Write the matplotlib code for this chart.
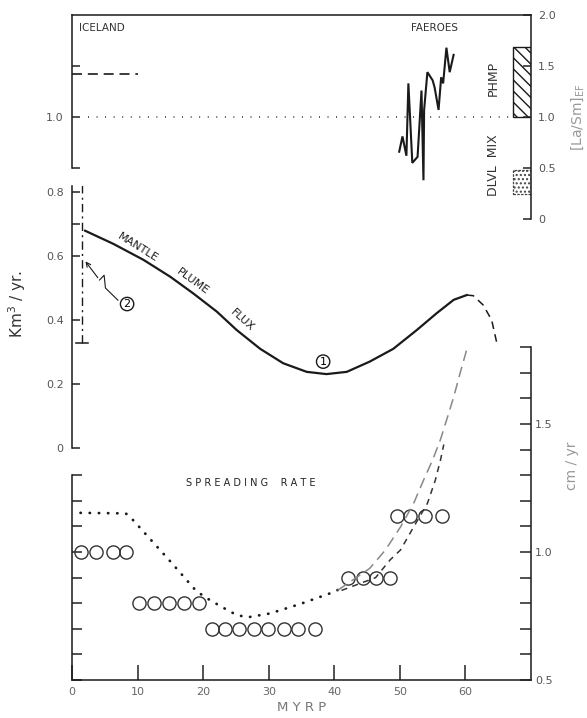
"""Iceland / Faeroes plume flux, [La/Sm]EF and spreading rate vs age (MYRP)."""

import numpy as np
import matplotlib
matplotlib.use("Agg")
import matplotlib.pyplot as plt
from matplotlib.patches import Rectangle

plt.rcParams.update({
    "font.family": ["DejaVu Sans"],
    "font.size": 8,
    "axes.linewidth": 1.1,
    "xtick.direction": "in", "ytick.direction": "in",
    "xtick.color": "#222", "ytick.color": "#222",
    "xtick.labelcolor": "#666", "ytick.labelcolor": "#555",
})

INK = "#1a1a1a"

# ---- top panel: [La/Sm]EF ----
iceland_x = [0, 10]
iceland_y = [1.42, 1.42]
mix_line_x = [2.4, 67.5]
faeroes_x = [49.9, 50.4, 51.0, 51.3, 51.9, 52.7, 53.3, 53.6, 53.7, 54.2,
             55.0, 55.3, 55.9, 56.3, 56.6, 57.1, 57.6, 58.2]
faeroes_y = [0.66, 0.81, 0.62, 1.33, 0.55, 0.61, 1.26, 0.38, 1.07, 1.44,
             1.36, 1.29, 1.07, 1.39, 1.33, 1.68, 1.44, 1.61]
phmp_range = (1.0, 1.69)
dlvl_range = (0.25, 0.48)

# ---- middle panel: mantle plume flux ----
flux_x = [2.0, 6.3, 10.9, 15.0, 18.5, 22.1, 25.1, 28.7, 32.2, 35.8,
          38.8, 41.9, 45.4, 49.0, 52.6, 55.6, 58.2, 60.2]
flux_y = [0.679, 0.638, 0.588, 0.535, 0.483, 0.426, 0.369, 0.310, 0.265, 0.238,
          0.231, 0.238, 0.270, 0.310, 0.369, 0.421, 0.463, 0.478]
flux_ext_x = [60.2, 61.2, 62.7, 64.0, 64.8]
flux_ext_y = [0.478, 0.476, 0.447, 0.400, 0.327]
iceland_bar_x = 1.5
iceland_bar = (0.328, 0.825)
leader_x = [1.8, 4.2, 4.9, 5.1, 7.0]
leader_y = [0.59, 0.525, 0.54, 0.50, 0.462]

# ---- bottom panel: spreading rate (cm/yr) ----
rate_x = [1.3, 3.7, 6.2, 8.3,
          10.2, 12.5, 14.8, 17.1, 19.3,
          21.3, 23.4, 25.5, 27.8, 29.9, 32.3, 34.5, 37.0,
          42.1, 44.4, 46.4, 48.5,
          49.5, 51.6, 53.8, 56.5]
rate_y = [1.0] * 4 + [0.80] * 5 + [0.70] * 8 + [0.90] * 4 + [1.14] * 4
dot_x = [1.3, 8.2, 9.3, 14.8, 18.8, 20.2, 22.8, 25.1, 26.8, 30.2, 34.8, 39.4, 41.1]
dot_y = [1.153, 1.151, 1.125, 0.969, 0.852, 0.825, 0.786, 0.754, 0.745, 0.760,
         0.797, 0.839, 0.858]
dashA_x = [40.5, 45.4, 47.8, 50.1, 52.1, 53.6, 55.0, 56.2, 57.3, 58.2, 59.2, 60.3]
dashA_y = [0.85, 0.936, 1.008, 1.098, 1.19, 1.28, 1.36, 1.44, 1.53, 1.605, 1.70, 1.80]
dashB_x = [41.1, 46.3, 48.5, 50.1, 52.1, 54.2, 55.4, 56.2, 56.7]
dashB_y = [0.85, 0.90, 0.969, 1.008, 1.098, 1.19, 1.28, 1.36, 1.42]

XLIM = (0, 70)
x_ticks = [0, 10, 20, 30, 40, 50, 60]
rate_labels = {0.5: "0.5", 1.0: "1.0", 1.5: "1.5"}

fig = plt.figure(figsize=(5.87, 7.18), dpi=100)
x0, w = 72 / 587, 459 / 587
ax_bot = fig.add_axes([x0, 0.0529, w, 0.4813])
ax_mid = fig.add_axes([x0, 0.376, w, 0.3655])
ax_top = fig.add_axes([x0, 0.695, w, 0.284])
for a in (ax_bot, ax_mid, ax_top):
    a.set_facecolor("none")
    a.set_xlim(*XLIM)
    for s in a.spines.values():
        s.set_color(INK)

# ---------------- top ----------------
ax_top.set_ylim(0, 2.0)
ax_top.spines["bottom"].set_visible(False)
ax_top.spines["left"].set_bounds(0.5, 2.0)
ax_top.spines["right"].set_bounds(0, 2.0)
ax_top.set_xticks([])
ax_top.set_yticks([0.5, 1.0, 1.5])
ax_top.set_yticklabels(["", "1.0", ""])
ax_top.tick_params(axis="y", length=6, width=1.1, labelsize=8, pad=6)
top_r = ax_top.twinx()
top_r.set_ylim(0, 2.0)
top_r.set_facecolor("none")
for s in top_r.spines.values():
    s.set_visible(False)
top_r.set_yticks([0, 0.5, 1.0, 1.5, 2.0])
top_r.set_yticklabels(["0", "0.5", "1.0", "1.5", "2.0"])
top_r.tick_params(axis="y", length=6, width=1.1, labelsize=8, pad=5)
top_r.set_ylabel(r"[La/Sm]$_{\rm EF}$", color="#999", fontsize=10, labelpad=10)

ax_top.plot(iceland_x, iceland_y, color=INK, lw=1.2, dashes=(6, 3.5))
ax_top.plot(mix_line_x, [1.0, 1.0], color=INK, lw=1.1, dashes=(0.6, 5))
ax_top.plot(faeroes_x, faeroes_y, color=INK, lw=1.5, solid_joinstyle="miter")
ax_top.add_patch(Rectangle((67.3, phmp_range[0]), 2.7, phmp_range[1] - phmp_range[0],
                           fill=False, hatch="\\\\\\", ec=INK, lw=1.0))
ax_top.add_patch(Rectangle((67.3, dlvl_range[0]), 2.7, dlvl_range[1] - dlvl_range[0],
                           fill=False, hatch="....", ec="#444", lw=0.9, ls=(0, (2, 1))))
ax_top.text(1.0, 1.87, "ICELAND", fontsize=7.5, color="#333", va="center")
ax_top.text(55.3, 1.87, "FAEROES", fontsize=7.5, color="#333", va="center", ha="center")
ax_top.text(64.3, 1.38, "PHMP", rotation=90, fontsize=9, color="#333", ha="center", va="center")
ax_top.text(64.3, 0.53, "DLVL  MIX", rotation=90, fontsize=9, color="#333", ha="center", va="center")

# ---------------- middle ----------------
ax_mid.set_ylim(0, 0.82)
for s in ("top", "right", "bottom"):
    ax_mid.spines[s].set_visible(False)
ax_mid.spines["left"].set_bounds(0, 0.82)
ax_mid.set_xticks([])
ax_mid.set_yticks([0, 0.2, 0.4, 0.6, 0.7, 0.8])
ax_mid.set_yticklabels(["0", "0.2", "0.4", "0.6", "", "0.8"])
ax_mid.tick_params(axis="y", length=6, width=1.1, labelsize=8, pad=6)
ax_mid.set_ylabel("Km$^3$ / yr.", fontsize=11, color="#333", labelpad=4)
ax_mid.yaxis.set_label_coords(-0.095, 0.55)

ax_mid.plot(flux_x, flux_y, color=INK, lw=1.6)
ax_mid.plot(flux_ext_x, flux_ext_y, color=INK, lw=1.1, dashes=(5, 3.5))
ax_mid.plot([iceland_bar_x] * 2, iceland_bar, color=INK, lw=1.0, dashes=(6, 3, 1.5, 3))
for yv in iceland_bar:
    ax_mid.plot([iceland_bar_x - 0.9, iceland_bar_x + 0.9], [yv, yv], color=INK, lw=1.1)
ax_mid.annotate("", xy=(leader_x[0], leader_y[0]), xytext=(leader_x[1], leader_y[1]),
                arrowprops=dict(arrowstyle="->", color=INK, lw=0.8))
ax_mid.plot(leader_x[1:], leader_y[1:], color=INK, lw=0.8)
ax_mid.text(8.4, 0.45, "2", fontsize=8, ha="center", va="center",
            bbox=dict(boxstyle="circle,pad=0.15", fc="none", ec=INK, lw=1.0))
ax_mid.text(38.3, 0.27, "1", fontsize=8, ha="center", va="center",
            bbox=dict(boxstyle="circle,pad=0.15", fc="none", ec=INK, lw=1.0))
ax_mid.text(10.0, 0.625, "MANTLE", rotation=-32, fontsize=8, ha="center", va="center",
            rotation_mode="anchor", color=INK)
ax_mid.text(18.4, 0.52, "PLUME", rotation=-36, fontsize=8, ha="center", va="center",
            rotation_mode="anchor", color=INK)
ax_mid.text(25.9, 0.40, "FLUX", rotation=-42, fontsize=8, ha="center", va="center",
            rotation_mode="anchor", color=INK)

# ---------------- bottom ----------------
ax_bot.set_ylim(0.5, 1.85)
ax_bot.spines["top"].set_visible(False)
ax_bot.spines["left"].set_bounds(0.5, 1.3)
ax_bot.spines["right"].set_bounds(0.5, 1.8)
ax_bot.set_xticks(x_ticks)
ax_bot.set_xticklabels([str(t) for t in x_ticks])
ax_bot.tick_params(axis="x", length=11, width=1.1, labelsize=8, pad=5)
ax_bot.set_yticks(np.round(np.arange(0.5, 1.31, 0.1), 2))
ax_bot.set_yticklabels([])
ax_bot.tick_params(axis="y", length=7, width=1.1)
ax_bot.set_xlabel("M Y R P", fontsize=9.5, color="#777", labelpad=3)
bot_r = ax_bot.twinx()
bot_r.set_ylim(0.5, 1.85)
bot_r.set_facecolor("none")
for s in bot_r.spines.values():
    s.set_visible(False)
bot_ticks = np.round(np.arange(0.5, 1.81, 0.1), 2)
bot_r.set_yticks(bot_ticks)
bot_r.set_yticklabels([rate_labels.get(float(t), "") for t in bot_ticks])
bot_r.tick_params(axis="y", length=8, width=1.1, labelsize=8, pad=3)
bot_r.set_ylabel("cm / yr", color="#999", fontsize=10)
bot_r.yaxis.set_label_coords(1.075, 0.62)

ax_bot.plot(rate_x, rate_y, ls="none", marker="o", ms=9.5, mfc="none", mec="#333", mew=1.0)
ax_bot.plot(dot_x, dot_y, color=INK, lw=2.0, dashes=(0.1, 3.2), dash_capstyle="round")
ax_bot.plot(dashA_x, dashA_y, color="#888", lw=1.1, dashes=(7, 4))
ax_bot.plot(dashB_x, dashB_y, color="#333", lw=1.1, dashes=(4, 3.5))
ax_bot.text(27.3, 1.27, "S P R E A D I N G    R A T E", fontsize=7, ha="center",
            va="center", color="#222")

fig.savefig("out.png", dpi=100)
